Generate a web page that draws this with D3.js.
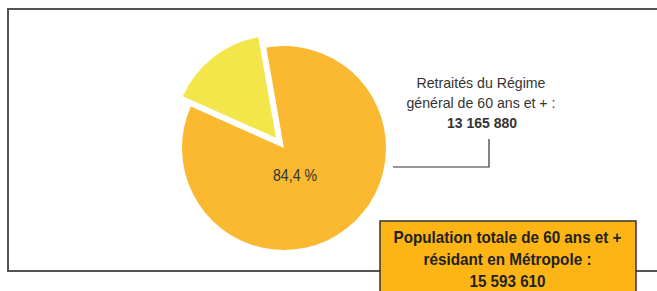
<!DOCTYPE html>
<html><head><meta charset="utf-8">
<script src="https://cdn.jsdelivr.net/npm/d3@7"></script>
<style>
html,body{margin:0;padding:0;background:#fff;}
svg{display:block;}
text{font-family:"Liberation Sans",Arial,Helvetica,sans-serif;}
</style></head>
<body>
<svg id="chart" width="657" height="291"></svg>
<script>
const categories = ["Retraités du Régime général de 60 ans et +", "Autres"];
const values = [13165880, 2427730];
const total = 15593610;
const labelLines = ["Retraités du Régime", "général de 60 ans et + :"];
const boxLines = ["Population totale de 60 ans et +", "résidant en Métropole :"];
const colors = ["#FBB931", "#F2E64A"];

const fmt = n => d3.format(",")(n).replace(/,/g, " ");
const pct = v => d3.format(".1f")(v / total * 100).replace(".", ",") + " %";

const svg = d3.select("#chart");
const W = 657, H = 291;

// narrow text helper: compress to target width
function ntext(sel, x, y, str, size, width, bold, fill) {
  return sel.append("text").attr("x", x).attr("y", y).attr("text-anchor", "middle")
    .attr("font-size", size).attr("font-weight", bold ? "bold" : "normal")
    .attr("fill", fill).attr("textLength", width).attr("lengthAdjust", "spacingAndGlyphs")
    .text(str);
}

// frame
svg.append("path")
  .attr("d", `M${W+2},9 L8,9 L8,271 L${W+2},271`)
  .attr("fill", "none").attr("stroke", "#555").attr("stroke-width", 2);

const cx = 284, cy = 148, r = 102;
const pie = d3.pie().sort(null).value(d => d)
  .startAngle(-10 * Math.PI / 180).endAngle(350 * Math.PI / 180);
const arc = d3.arc().innerRadius(0).outerRadius(r);
const arcs = pie(values);
const g = svg.append("g").attr("transform", `translate(${cx},${cy})`);
g.selectAll("path").data(arcs).enter().append("path")
  .attr("d", arc)
  .attr("fill", (d, i) => colors[i])
  .attr("transform", (d, i) => {
    if (i === 0) return null;
    const a = (d.startAngle + d.endAngle) / 2, off = 13;
    return `translate(${off * Math.sin(a)},${-off * Math.cos(a)})`;
  });

ntext(g, 11, 33, pct(values[0]), 16.5, 44, false, "#333");

// label on right
const lx = 481;
ntext(svg, lx, 88, labelLines[0], 15, 129, false, "#333");
ntext(svg, lx, 108, labelLines[1], 15, 149, false, "#333");
ntext(svg, lx + 1, 128, fmt(values[0]), 15, 70, true, "#333");
svg.append("path").attr("d", "M489,139 L489,167 L393,167")
  .attr("fill", "none").attr("stroke", "#333").attr("stroke-width", 1.2);

// box
svg.append("rect").attr("x", 380).attr("y", 221).attr("width", 256).attr("height", 80)
  .attr("fill", "#FDB515").attr("stroke", "#333").attr("stroke-width", 1.5);
const bx = 507.5;
ntext(svg, bx, 243, boxLines[0], 17, 228, true, "#222");
ntext(svg, bx, 265, boxLines[1], 17, 168, true, "#222");
ntext(svg, bx, 287, fmt(total), 17, 76, true, "#222");
</script>
</body></html>
